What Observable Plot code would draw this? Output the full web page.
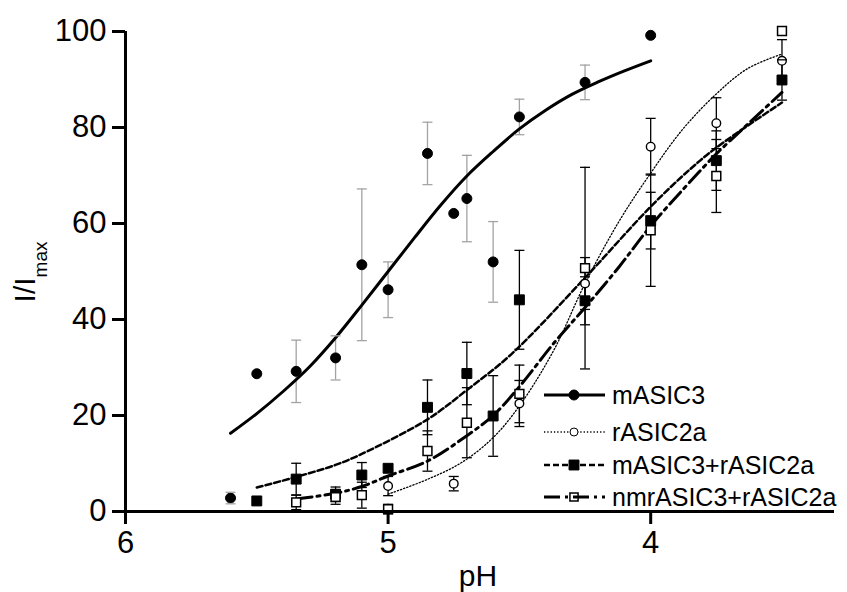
<!DOCTYPE html>
<html><head><meta charset="utf-8">
<script src="https://cdn.jsdelivr.net/npm/d3@7"></script>
<script src="https://cdn.jsdelivr.net/npm/@observablehq/plot@0.6"></script>
<style>body{margin:0;background:#fff;} #chart svg{display:block;}</style>
</head><body><div id="chart"></div>
<script>
// ---- data ----
const seriesNames = ["mASIC3", "rASIC2a", "mASIC3+rASIC2a", "nmrASIC3+rASIC2a"];
const xTicks = [6, 5, 4];
const yTicks = [0, 20, 40, 60, 80, 100];

const mASIC3_pH  = [5.6, 5.5, 5.35, 5.2, 5.1, 5.0, 4.85, 4.75, 4.7, 4.6, 4.5, 4.25, 4.0];
const mASIC3_val = [2.8, 28.7, 29.2, 32.0, 51.4, 46.2, 74.6, 62.1, 65.2, 52.0, 82.2, 89.4, 99.2];
const mASIC3_err = [1.2, 0, 6.5, 4.6, 15.8, 5.8, 6.5, 0, 9.0, 8.4, 3.7, 3.6, 0];

const rASIC2a_pH  = [5.0, 4.75, 4.5, 4.25, 4.0, 3.75, 3.5];
const rASIC2a_val = [5.3, 5.8, 22.5, 47.5, 76.0, 80.9, 93.9];
const rASIC2a_err = [2.0, 1.5, 4.8, 5.4, 5.9, 5.3, 4.4];

const mix_pH  = [5.5, 5.35, 5.2, 5.1, 5.0, 4.85, 4.7, 4.6, 4.5, 4.25, 4.0, 3.75, 3.5];
const mix_val = [2.2, 6.75, 3.6, 7.6, 9.0, 21.7, 28.75, 19.9, 44.1, 43.9, 60.6, 73.1, 89.9];
const mix_err = [0, 3.3, 1.5, 2.6, 0, 5.7, 6.5, 8.4, 10.3, 5.0, 5.9, 6.2, 4.2];

const nmr_pH  = [5.35, 5.2, 5.1, 5.0, 4.85, 4.7, 4.5, 4.25, 4.0, 3.75, 3.5];
const nmr_val = [1.9, 3.0, 3.4, 0.5, 12.6, 18.5, 24.5, 50.7, 58.6, 69.9, 100.1];
const nmr_err = [1.5, 1.5, 2.7, 1.0, 4.2, 7.3, 6.0, 21.0, 11.7, 7.6, 0];

// fitted curves
const mASIC3_fit_pH = [5.6, 5.5, 5.4, 5.3, 5.2, 5.1, 5.0, 4.9, 4.8, 4.7, 4.6, 4.5, 4.4, 4.3, 4.2, 4.1, 4.0];
const mASIC3_fit    = [16.3, 20.4, 25, 30.1, 36.2, 43, 50, 57, 63.8, 69.9, 75, 79.7, 83.6, 86.9, 89.5, 91.8, 93.9];
const rASIC2a_fit_pH = [5.0, 4.85, 4.72, 4.6, 4.5, 4.37, 4.25, 4.12, 4.0, 3.88, 3.75, 3.63, 3.5];
const rASIC2a_fit    = [3.6, 6.7, 10.2, 15.4, 22, 33.5, 47.5, 60.5, 70.5, 79.5, 87, 92.3, 95.3];
const mix_fit_pH = [5.5, 5.35, 5.2, 5.1, 4.85, 4.7, 4.53, 4.25, 4.0, 3.85, 3.75, 3.5];
const mix_fit    = [5.0, 7.2, 9.7, 12, 19.2, 25.3, 32.8, 48.7, 63.5, 71.3, 75.8, 85.2];
const nmr_fit_pH = [5.35, 5.2, 5.1, 5.0, 4.85, 4.7, 4.6, 4.5, 4.37, 4.25, 4.12, 4.0, 3.87, 3.75, 3.62, 3.5];
const nmr_fit    = [2.6, 3.8, 5.2, 7.4, 10.5, 15.8, 20, 26, 35, 42.5, 51, 59.5, 67.5, 74.5, 81.2, 87.3];

// ---- build tables ----
const rows = (name, xs, ys, es) => xs.map((x, i) => ({series: name, pH: x, v: ys[i], e: es ? es[i] : 0}));
const pts = [
  ...rows(seriesNames[0], mASIC3_pH, mASIC3_val, mASIC3_err),
  ...rows(seriesNames[1], rASIC2a_pH, rASIC2a_val, rASIC2a_err),
  ...rows(seriesNames[2], mix_pH, mix_val, mix_err),
  ...rows(seriesNames[3], nmr_pH, nmr_val, nmr_err)
];
const fits = [
  rows(seriesNames[0], mASIC3_fit_pH, mASIC3_fit),
  rows(seriesNames[1], rASIC2a_fit_pH, rASIC2a_fit),
  rows(seriesNames[2], mix_fit_pH, mix_fit),
  rows(seriesNames[3], nmr_fit_pH, nmr_fit)
];
const lineStyle = [
  {strokeWidth: 3, dash: null},
  {strokeWidth: 1.3, dash: "1.3,2"},
  {strokeWidth: 2.5, dash: "6,3"},
  {strokeWidth: 3, dash: "16,5,3,5"}
];
const markStyle = [
  {symbol: "circle", r: 5, fill: "black", stroke: "black", sw: 1},
  {symbol: "circle", r: 4.3, fill: "white", stroke: "black", sw: 1.4},
  {symbol: "square", r: 5.6, fill: "black", stroke: "black", sw: 1},
  {symbol: "square", r: 5.0, fill: "white", stroke: "black", sw: 1.5}
];
const capSymbol = {draw(ctx, size) { const r = Math.sqrt(size / Math.PI); ctx.moveTo(-r, 0); ctx.lineTo(r, 0); }};
const errColor = d => d.series === seriesNames[0] ? "#a3a3a3" : "black";
const errs = pts.filter(d => d.e > 0);

const font = "'Liberation Sans', Arial, Helvetica, sans-serif";

const marks = [
  Plot.ruleX(errs, {x: "pH", y1: d => d.v - d.e, y2: d => d.v + d.e, stroke: errColor, strokeWidth: 1.3}),
  ...fits.map((f, i) => Plot.line(f, {x: "pH", y: "v", curve: "catmull-rom", stroke: "black",
      strokeWidth: lineStyle[i].strokeWidth, strokeDasharray: lineStyle[i].dash})),
  ...seriesNames.map((s, i) => Plot.dot(pts.filter(d => d.series === s), {x: "pH", y: "v",
      symbol: markStyle[i].symbol, r: markStyle[i].r, fill: markStyle[i].fill,
      stroke: markStyle[i].stroke, strokeWidth: markStyle[i].sw})),
  Plot.dot(errs, {x: "pH", y: d => d.v + d.e, symbol: capSymbol, r: 5, stroke: errColor, strokeWidth: 1.3, fill: "none"}),
  Plot.dot(errs, {x: "pH", y: d => d.v - d.e, symbol: capSymbol, r: 5, stroke: errColor, strokeWidth: 1.3, fill: "none"}),
  Plot.ruleX([6], {strokeWidth: 3, stroke: "black"}),
  Plot.ruleY([0], {strokeWidth: 3, stroke: "black"}),
  Plot.axisY({ticks: yTicks, tickSize: 13, tickPadding: 6, strokeWidth: 3, label: null, fontSize: 31, tickFormat: d3.format("d")}),
  Plot.axisX({ticks: xTicks, tickSize: 13, tickPadding: 6, strokeWidth: 3, label: null, fontSize: 31, tickFormat: d3.format("d")})
];

const svg = Plot.plot({
  width: 847, height: 592,
  marginLeft: 125, marginRight: 13, marginTop: 31, marginBottom: 81,
  x: {domain: [6, 3.3]},
  y: {domain: [0, 100]},
  style: {fontFamily: font, fontSize: "31px", color: "black", background: "white", overflow: "visible"},
  marks
});

const s = d3.select(svg);
// y label with subscript
const yl = s.append("text").attr("transform", "translate(35,272) rotate(-90)")
  .attr("text-anchor", "middle").attr("font-family", font).attr("fill", "black");
yl.append("tspan").attr("font-size", 30).text("I/I");
yl.append("tspan").attr("font-size", 19).attr("dy", 12).text("max");
// x label
s.append("text").attr("x", 478).attr("y", 586).attr("text-anchor", "middle")
  .attr("font-family", font).attr("font-size", 30).attr("fill", "black").text("pH");

// legend
const legY = [395, 432, 465, 497];
seriesNames.forEach((name, i) => {
  const g = s.append("g").attr("transform", `translate(0,${legY[i]})`);
  g.append("line").attr("x1", 544).attr("x2", 605).attr("y1", 0).attr("y2", 0)
    .attr("stroke", "black").attr("stroke-width", lineStyle[i].strokeWidth)
    .attr("stroke-dasharray", lineStyle[i].dash);
  const m = markStyle[i];
  const sym = m.symbol === "circle" ? d3.symbolCircle : d3.symbolSquare;
  const r = i === 1 ? 4 : i === 3 ? 4.6 : m.r;
  g.append("path").attr("transform", "translate(574,0)")
    .attr("d", d3.symbol(sym, r * r * Math.PI)())
    .attr("fill", i === 3 ? "none" : m.fill).attr("stroke", "black").attr("stroke-width", i === 1 ? 1 : m.sw);
  g.append("text").attr("x", 612).attr("y", 0).attr("dy", "0.36em").attr("text-anchor", "start")
    .attr("font-family", font).attr("font-size", 25).attr("fill", "black").text(name);
});

document.getElementById("chart").appendChild(svg);
</script>
</body></html>
